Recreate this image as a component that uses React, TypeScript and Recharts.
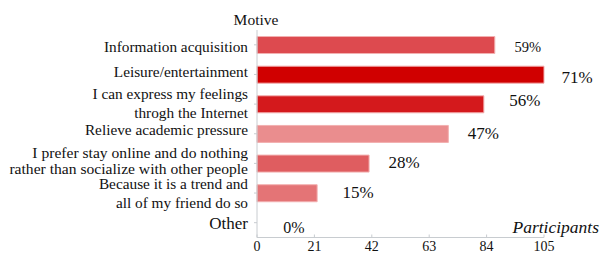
import React from "react";
import { BarChart, Bar, XAxis, YAxis, Cell, LabelList, ReferenceDot } from "recharts";

const categories = [
  "Information acquisition",
  "Leisure/entertainment",
  "I can express my feelings\nthrogh the Internet",
  "Relieve academic pressure",
  "I prefer stay online and do nothing\nrather than socialize with other people",
  "Because it is a trend and\nall of my friend do so",
  "Other",
];
const participants = [87, 105, 83, 70, 41, 22, 0];
const percentLabels = ["59%", "71%", "56%", "47%", "28%", "15%", "0%"];
const xTicks = [0, 21, 42, 63, 84, 105];

const barColors = ["#dd4a4f", "#d00000", "#d4191c", "#ea8d8e", "#df5d60", "#e47476", "#e47476"];
const tickFontSizes = [15.3, 15.3, 15.3, 15.3, 15.6, 15.3, 17];
const tickLineGap = [0, 0, 19, 0, 15.5, 19, 0];
const tickShift = [2, -3, -1.5, -4.5, -3, 0.5, 0];
const labelFontSizes = [14.5, 17, 17, 17, 17, 17, 16];
const labelDx = [33, 33, 41, 35, 35, 41, 37];
const labelDy = [2, 2, -4, -1, -2, -1, 5];

const data = categories.map((c, i) => ({
  name: c,
  value: participants[i],
  pct: percentLabels[i],
}));

const FONT = "Liberation Serif, Times New Roman, DejaVu Serif, serif";
const AXIS = "#c8ccd0";
const lastIdx = categories.length - 1;

const YTick = (props: any) => {
  const { x, y, payload, index } = props;
  const lines = String(payload.value).split("\n");
  const gap = tickLineGap[index] || 0;
  const fs = tickFontSizes[index];
  const start = -((lines.length - 1) * gap) / 2 + tickShift[index];
  return (
    <text x={x - 4} y={y} textAnchor="end" style={{ fontFamily: FONT, fontSize: fs }} fill="#111">
      {lines.map((l, i) => (
        <tspan key={i} x={x - 4} y={y + start + i * gap} dy="0.355em">
          {l}
        </tspan>
      ))}
    </text>
  );
};

const XTick = (props: any) => {
  const { x, y, payload } = props;
  return (
    <g>
      <line x1={x} x2={x} y1={y - 3} y2={y} stroke={AXIS} />
      <text
        x={x}
        y={y + 9}
        textAnchor="middle"
        dy="0.355em"
        style={{ fontFamily: FONT, fontSize: 14 }}
        fill="#111"
      >
        {payload.value}
      </text>
    </g>
  );
};

const PctLabel = (props: any) => {
  const { x, y, width, height, index, value } = props;
  if (index === lastIdx && participants[index] === 0) return null;
  return (
    <text
      x={x + width + labelDx[index]}
      y={y + height / 2 + labelDy[index]}
      textAnchor="middle"
      dy="0.355em"
      style={{ fontFamily: FONT, fontSize: labelFontSizes[index] }}
      fill="#111"
    >
      {value}
    </text>
  );
};

const ZeroLabel = (props: any) => {
  const { viewBox } = props;
  const cx = viewBox.x + (viewBox.width || 0) / 2;
  const cy = viewBox.y + (viewBox.height || 0) / 2;
  return (
    <text
      x={cx + labelDx[lastIdx]}
      y={cy + labelDy[lastIdx]}
      textAnchor="middle"
      dy="0.355em"
      style={{ fontFamily: FONT, fontSize: labelFontSizes[lastIdx] }}
      fill="#111"
    >
      {percentLabels[lastIdx]}
    </text>
  );
};

export default function App() {
  return (
    <div style={{ position: "fixed", left: 0, top: 0, width: 600, height: 255, background: "#fff" }}>
      <BarChart
        width={600}
        height={255}
        data={data}
        layout="vertical"
        margin={{ top: 30, right: 56, bottom: 0, left: 0 }}
        barCategoryGap="22%"
        style={{ fontFamily: FONT }}
      >
        <XAxis
          type="number"
          domain={[0, 105]}
          ticks={xTicks}
          interval={0}
          height={17.5}
          axisLine={{ stroke: AXIS }}
          tickLine={false}
          tickSize={0}
          tickMargin={0}
          tick={<XTick />}
        />
        <YAxis
          type="category"
          dataKey="name"
          width={257}
          interval={0}
          axisLine={{ stroke: AXIS }}
          tickLine={{ stroke: AXIS }}
          tickSize={3}
          tick={<YTick />}
        />
        <Bar dataKey="value" isAnimationActive={false} stroke="#f2b0b0" strokeWidth={1}>
          {data.map((d, i) => (
            <Cell key={i} fill={barColors[i]} />
          ))}
          <LabelList dataKey="pct" content={<PctLabel />} />
        </Bar>
        <ReferenceDot
          x={participants[lastIdx]}
          y={categories[lastIdx]}
          r={0}
          fill="none"
          stroke="none"
          ifOverflow="visible"
          label={<ZeroLabel />}
        />
        <text x={256} y={19} textAnchor="middle" dy="0.355em" style={{ fontFamily: FONT, fontSize: 15.5 }} fill="#111">
          Motive
        </text>
        <text
          x={599}
          y={227}
          textAnchor="end"
          dy="0.355em"
          style={{ fontFamily: FONT, fontSize: 17.5, fontStyle: "italic" }}
          fill="#111"
        >
          Participants
        </text>
      </BarChart>
    </div>
  );
}
